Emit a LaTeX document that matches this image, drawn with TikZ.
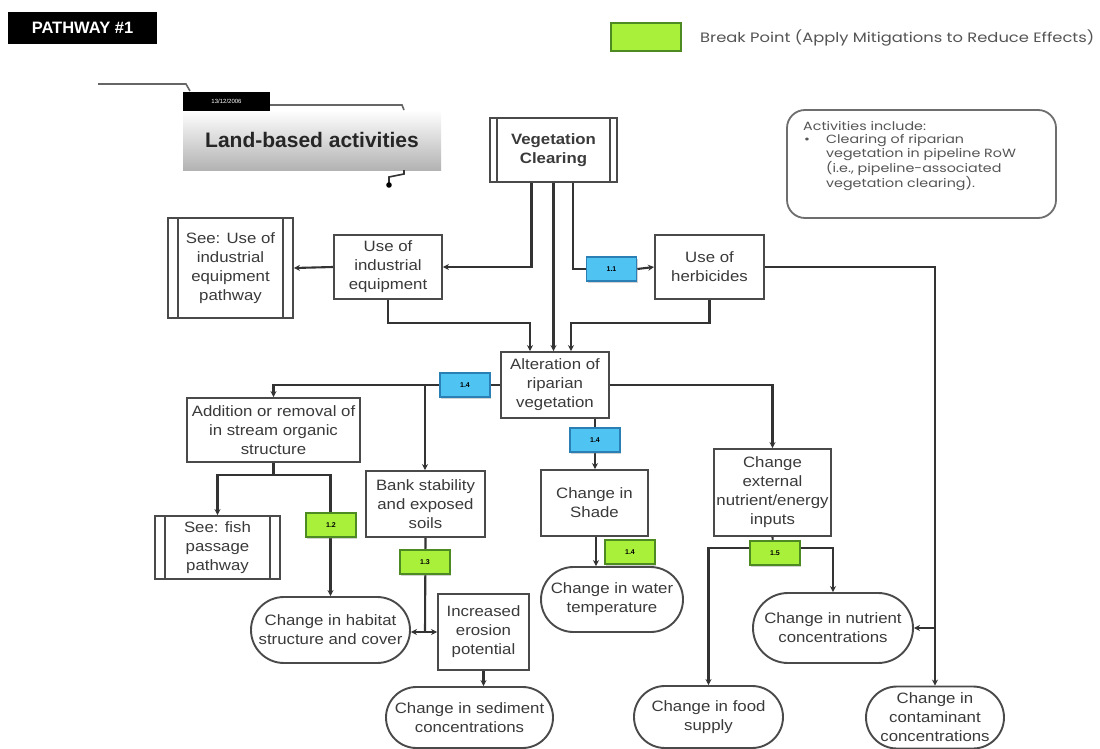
\documentclass[tikz,border=0pt]{standalone}
\usepackage{fontspec}
\setmainfont[FakeStretch=1.12]{Liberation Sans}
\newfontfamily\gothic[FakeStretch=1.2]{Poppins}
\newfontfamily\plainsans{Liberation Sans}
\usetikzlibrary{shapes.misc,arrows.meta,calc,shadows}
\pgfdeclarelayer{bg}
\pgfsetlayers{bg,main}
\definecolor{ln}{HTML}{333333}
\definecolor{bx}{HTML}{4A4A4A}
\definecolor{txt}{HTML}{3A3A3A}
\definecolor{bluef}{HTML}{4FC3F2}
\definecolor{blued}{HTML}{2A80B5}
\definecolor{greenf}{HTML}{A8F03A}
\definecolor{greend}{HTML}{4E8A22}
\definecolor{legtxt}{HTML}{555555}
\begin{document}
\begin{tikzpicture}[x=1pt,y=-1pt,
  box/.style={draw=bx,line width=1.9pt,fill=white,rectangle,align=center,inner sep=0pt,text=txt,font=\fontsize{15}{19}\selectfont},
  term/.style={box,rounded rectangle},
  tagb/.style={draw=blued,line width=1.5pt,fill=bluef,minimum width=50pt,minimum height=24pt,inner sep=0pt,font=\plainsans\fontsize{7}{7}\selectfont\bfseries,drop shadow={shadow xshift=1pt,shadow yshift=-1.5pt,opacity=0.35}},
  tagg/.style={draw=greend,line width=1.5pt,fill=greenf,minimum width=50pt,minimum height=24pt,inner sep=0pt,font=\plainsans\fontsize{7}{7}\selectfont\bfseries,drop shadow={shadow xshift=1pt,shadow yshift=-1.5pt,opacity=0.35}},
  conn/.style={draw=ln,line width=2.1pt},
  arr/.style={conn,-{Stealth[length=6pt,width=6pt]}},
  inner/.style={draw=bx,line width=1.6pt},
]
\useasboundingbox (0,0) rectangle (1100,749);
\begin{pgfonlayer}{bg}
\fill[white] (0,0) rectangle (1100,749);
\end{pgfonlayer}

% header
\node[fill=black,minimum width=149pt,minimum height=32pt,inner sep=0pt,text=white,font=\plainsans\fontsize{16.5}{16.5}\selectfont\bfseries] (path) at (82.5,28) {PATHWAY \#1};
\node[draw=greend,line width=1.6pt,fill=greenf,minimum width=70pt,minimum height=28pt,inner sep=0pt,drop shadow={shadow xshift=1pt,shadow yshift=-1.5pt,opacity=0.35}] (leg) at (646,37) {};
\node[anchor=west,inner sep=0pt,text=legtxt,font=\gothic\fontsize{13.6}{13.6}\selectfont] (legt) at (700,38) {Break Point (Apply Mitigations to Reduce Effects)};

% activities
\node[draw=bx!80,line width=1.8pt,rounded corners=18pt,minimum width=269pt,minimum height=108pt,inner sep=0pt] (act) at (921.5,164) {};
\node[anchor=north west,inner sep=0pt,align=left,text=legtxt,font=\gothic\fontsize{11.9}{14}\selectfont] (actt) at (803,121) {Activities include:\\[-1pt]
\makebox[23pt][l]{\hspace*{1pt}\textbullet}Clearing of riparian\\
\hspace*{23pt}vegetation in pipeline RoW\\
\hspace*{23pt}(i.e., pipeline-associated\\
\hspace*{23pt}vegetation clearing).};

% land-based activities
\node[minimum width=258pt,minimum height=60pt,inner sep=0pt,top color=white,bottom color=black!30,font=\plainsans\fontsize{21}{21}\selectfont\bfseries,text=black!85] (land) at (312,140) {Land-based activities};
\node[fill=black,minimum width=87pt,minimum height=19pt,inner sep=0pt,text=white,font=\plainsans\fontsize{6}{6}\selectfont] (date) at (226.5,101.5) {13/12/2006};
\coordinate (l1) at (98,84);
\coordinate (l2) at (186,84);
\coordinate (l3) at (190,91);
\draw[draw=black!60,line width=1.6pt] (l1) -- (l2) -- (l3);
\coordinate (d1) at (402,105);
\draw[draw=black!60,line width=1.6pt] (date.east |- d1) -- (d1) -- (404,110);
\coordinate (k1) at (404,170);
\coordinate (k2) at (389,185);
\draw[draw=black!80,line width=1.6pt] (k1) -- (404,174) -- (389,177) -- (k2);
\fill[black] (k2) circle (2.8pt);

% main nodes
\node[box,font=\fontsize{15}{19}\selectfont\bfseries,minimum width=127pt,minimum height=64pt] (vc) at (553.5,150) {Vegetation\\Clearing};
\node[box,minimum width=108pt,minimum height=64pt] (uie) at (388,267) {Use of\\industrial\\equipment};
\node[box,minimum width=125pt,minimum height=100pt] (seeuie) at (230.5,268) {See: Use of\\industrial\\equipment\\pathway};
\node[box,minimum width=109pt,minimum height=64pt] (herb) at (709.5,267) {Use of\\herbicides};
\node[box,minimum width=108pt,minimum height=66pt] (alt) at (555,385) {Alteration of\\riparian\\vegetation};
\node[box,minimum width=173pt,minimum height=64pt] (add) at (273.5,430) {Addition or removal of\\in stream organic\\structure};
\node[box,minimum width=119pt,minimum height=66pt] (bank) at (425.5,504) {Bank stability\\and exposed\\soils};
\node[box,minimum width=107pt,minimum height=66pt] (shade) at (594.5,503) {Change in\\Shade};
\node[box,minimum width=117pt,minimum height=87pt] (ext) at (772.5,492.5) {Change\\external\\nutrient/energy\\inputs};
\node[box,minimum width=125pt,minimum height=63pt] (fish) at (217.5,547.5) {See: fish\\passage\\pathway};
\node[term,minimum width=159pt,minimum height=66pt] (habitat) at (330.5,630) {Change in habitat\\structure and cover};
\node[box,minimum width=91pt,minimum height=76pt] (erosion) at (483.5,632) {Increased\\erosion\\potential};
\node[term,minimum width=142pt,minimum height=65pt] (water) at (612,599.5) {Change in water\\temperature};
\node[term,minimum width=160pt,minimum height=70pt] (nutrient) at (833,628) {Change in nutrient\\concentrations};
\node[term,minimum width=167pt,minimum height=61pt] (sediment) at (469.5,717.5) {Change in sediment\\concentrations};
\node[term,minimum width=149pt,minimum height=62pt] (food) at (708.5,717) {Change in food\\supply};
\node[term,minimum width=138pt,minimum height=62pt] (contam) at (935,717.5) {Change in\\contaminant\\concentrations};

\foreach \n/\d in {vc/8,seeuie/11,fish/11}{
  \draw[inner] ([xshift=\d pt]\n.north west) -- ([xshift=\d pt]\n.south west);
  \draw[inner] ([xshift=-\d pt]\n.north east) -- ([xshift=-\d pt]\n.south east);
}

% tags
\node[tagb] (b11) at (611.5,269) {1.1};
\node[tagb] (b14a) at (465,385) {1.4};
\node[tagb] (b14b) at (595,440) {1.4};
\node[tagg] (g12) at (331,525) {1.2};
\node[tagg] (g13) at (425,562) {1.3};
\node[tagg] (g14) at (630,552) {1.4};
\node[tagg] (g15) at (775,553) {1.5};

% junctions
\coordinate (ja) at (425,385);
\coordinate (h15) at (773,548);
\coordinate (ha) at (273.5,475);
\coordinate (jb) at (425,632);

\begin{pgfonlayer}{bg}
\draw[arr] (uie.west) -- (seeuie.east);
\draw[arr] ([xshift=-22pt]vc.south) |- (uie.east);
\draw[arr] (vc.south) -- (vc.south |- alt.north);
\draw[conn] ([xshift=19.5pt]vc.south) |- (b11.west);
\draw[arr] (b11.east) -- (herb.west);
\draw[arr] (uie.south) -- ++(0,23) -| ([xshift=-25pt]alt.north);
\draw[arr] (herb.south) -- ++(0,23) -| ([xshift=16pt]alt.north);
\draw[arr] (herb.east) -| (contam.north);
\draw[arr] (contam.north |- nutrient.east) -- (nutrient.east);
\draw[conn] (alt.west) -- (b14a.east);
\draw[arr] (b14a.west) -| (add.north);
\draw[arr] (ja) -- (ja |- bank.north);
\draw[arr] (alt.east) -| (ext.north);
\draw[conn] (b14b.north |- alt.south) -- (b14b.north);
\draw[arr] (b14b.south) -- (b14b.south |- shade.north);
\draw[arr] ([xshift=1.5pt]shade.south) -- ([xshift=1.5pt]shade.south |- water.north);
\draw[conn] (ext.south) -- (h15);
\draw[arr] (h15) -| (food.north);
\draw[arr] (h15) -| (nutrient.north);
\draw[conn] (add.south) -- (ha);
\draw[arr] (ha) -| (fish.north);
\draw[arr] (ha) -| (habitat.north);
\draw[conn] (bank.south) -- (jb);
\draw[arr] (jb) -- (jb -| habitat.east);
\draw[arr] (jb) -- (erosion.west);
\draw[arr] (erosion.south) -- (erosion.south |- sediment.north);
\end{pgfonlayer}
\end{tikzpicture}
\end{document}
